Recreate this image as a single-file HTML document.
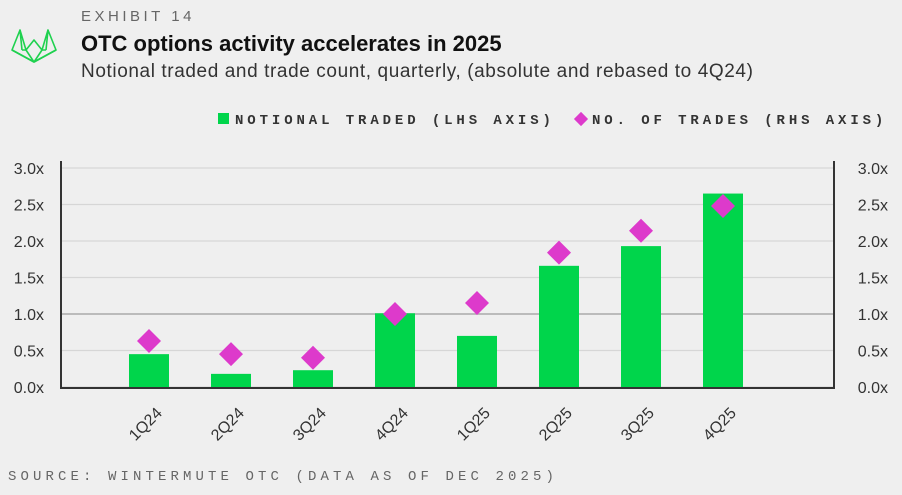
<!DOCTYPE html>
<html><head><meta charset="utf-8"><style>
body{margin:0;background:#efefef;font-family:"Liberation Sans",sans-serif;}
#wrap{position:relative;width:902px;height:495px;overflow:hidden;background:#efefef}
.t{position:absolute;white-space:nowrap}
</style></head><body>
<div id="wrap">
<svg style="position:absolute;left:8px;top:26px" width="52" height="40" viewBox="0 0 52 40">
<g fill="none" stroke="#1fd14f" stroke-width="1.6" stroke-linejoin="round">
<path d="M4 24 L12 4 L18 24 L26 14 L34 24 L40 4 L48 24 L26 36 Z"/>
<path d="M12 4 L14 24 M40 4 L38 24 M4 24 L26 36 L48 24 M18 24 L26 36 L34 24 M14 24 L18 24 M34 24 L38 24"/>
</g></svg>
<div class="t" style="left:81px;top:8px;font-size:15px;letter-spacing:3.5px;color:#666">EXHIBIT 14</div>
<div class="t" style="left:81px;top:31px;font-size:22px;font-weight:bold;color:#111">OTC options activity accelerates in 2025</div>
<div class="t" style="left:81px;top:61px;font-size:19px;color:#333;letter-spacing:0.6px">Notional traded and trade count, quarterly, (absolute and rebased to 4Q24)</div>
<div class="t" style="left:218px;top:113px;font-size:14px;letter-spacing:3.9px;color:#333;font-family:'Liberation Mono',monospace;font-weight:bold"><span style="display:inline-block;width:11px;height:11px;background:#00d54b;margin-right:6px"></span>NOTIONAL TRADED (LHS AXIS)</div>
<div class="t" style="left:576px;top:113px;font-size:14px;letter-spacing:3.9px;color:#333;font-family:'Liberation Mono',monospace;font-weight:bold"><span style="display:inline-block;width:10px;height:10px;background:#dd3acb;transform:rotate(45deg);margin-right:6px"></span>NO. OF TRADES (RHS AXIS)</div>
<svg id="chart" width="902" height="495" style="position:absolute;left:0;top:0"></svg>
<div class="t" style="left:8px;top:469px;font-size:14px;letter-spacing:4.1px;color:#666;font-family:'Liberation Mono',monospace">SOURCE: WINTERMUTE OTC (DATA AS OF DEC 2025)</div>
</div>
<script>
const categories=["1Q24","2Q24","3Q24","4Q24","1Q25","2Q25","3Q25","4Q25"];
const notional=[0.45,0.18,0.23,1.01,0.70,1.66,1.93,2.65];
const trades=[0.63,0.45,0.40,1.0,1.15,1.84,2.14,2.48];
const ticks=[0,0.5,1,1.5,2,2.5,3];
const tickLabels=["0.0x","0.5x","1.0x","1.5x","2.0x","2.5x","3.0x"];
const NS="http://www.w3.org/2000/svg";
const svg=document.getElementById('chart');
const X0=61,X1=834,Y0=387,Y3=168;
const y=v=>Y0-(Y0-Y3)*v/3;
const x=i=>149+i*82;
function mk(t,a){const e=document.createElementNS(NS,t);for(const k in a)e.setAttribute(k,a[k]);svg.appendChild(e);return e;}
ticks.forEach((t,i)=>{
 const g=mk('line',{x1:X0,x2:X1,y1:y(t),y2:y(t),stroke:t===1?'#aaa':'#d6d6d6','stroke-width':t===1?1.5:1.2});
 
 const l=mk('text',{x:44,y:y(t)+6,'text-anchor':'end','font-size':16,fill:'#333','font-family':'Liberation Sans'});
 l.textContent=tickLabels[i];
 const r=mk('text',{x:888,y:y(t)+6,'text-anchor':'end','font-size':16,fill:'#333','font-family':'Liberation Sans'});
 r.textContent=tickLabels[i];
});
categories.forEach((c,i)=>{
 const b=mk('rect',{x:x(i)-20,y:y(notional[i]),width:40,height:Y0-y(notional[i]),fill:'#00d54b'});
 
 const cx=x(i),cy=y(trades[i]);
 const d=mk('polygon',{points:`${cx},${cy-12} ${cx+12},${cy} ${cx},${cy+12} ${cx-12},${cy}`,fill:'#dd3acb'});
 
 const t=mk('text',{x:x(i)+14,y:414,'text-anchor':'end','font-size':16,fill:'#333','font-family':'Liberation Sans',transform:`rotate(-45 ${x(i)+14} 414)`});
 t.textContent=c;
});
const a1=mk('path',{d:`M${X0} 161 V${Y0+1} H${X1} V161`,fill:'none',stroke:'#333','stroke-width':2});

</script>
</body></html>
